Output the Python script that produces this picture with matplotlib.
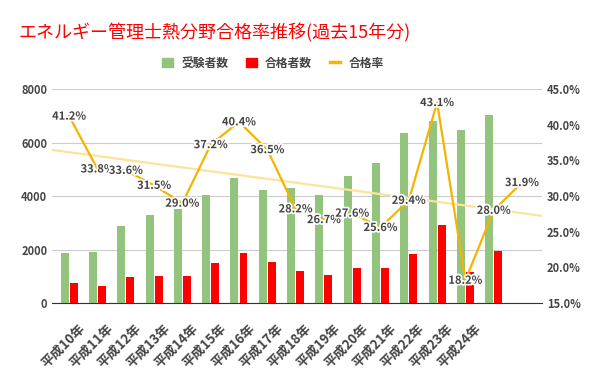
import numpy as np
import matplotlib
matplotlib.use("Agg")
import matplotlib.pyplot as plt
import matplotlib.patheffects as pe
from matplotlib.lines import Line2D
from matplotlib.patches import Patch

plt.rcParams["font.family"] = ["Noto Sans CJK JP", "DejaVu Sans"]

# data
years = ["平成10年", "平成11年", "平成12年", "平成13年", "平成14年", "平成15年",
         "平成16年", "平成17年", "平成18年", "平成19年", "平成20年", "平成21年",
         "平成22年", "平成23年", "平成24年", "", ""]
examinees = [1860, 1900, 2880, 3290, 3500, 4040, 4690, 4220, 4300, 4040,
             4750, 5250, 6370, 6820, 6470, 7040]
passers = [760, 640, 985, 1010, 1010, 1510, 1880, 1545, 1210, 1050,
           1320, 1320, 1845, 2915, 1170, 1945]
pass_rate = [41.2, 33.8, 33.6, 31.5, 29.0, 37.2, 40.4, 36.5, 28.2, 26.7,
             27.6, 25.6, 29.4, 43.1, 18.2, 28.0, 31.9]

GREEN = "#93c47d"
RED = "#ff0000"
ORANGE = "#f4b400"
GRAY = "#444444"

fig = plt.figure(figsize=(6, 3.71), dpi=100)
ax = fig.add_axes([0.087, 0.183, 0.816, 0.577])
ax2 = ax.twinx()

n = len(years)
xb = np.arange(len(examinees))
w = 0.28
ax.bar(xb - 0.16, examinees, w, color=GREEN, zorder=2)
ax.bar(xb + 0.16, passers, w, color=RED, zorder=2)

ax.set_ylim(0, 8000)
ax.set_yticks(range(0, 8001, 2000))
ax.set_xlim(-0.6, n - 0.3)
ax.grid(axis="y", color="#cccccc", lw=0.8, zorder=0)
ax.set_axisbelow(True)
for s in ["top", "right", "left"]:
    ax.spines[s].set_visible(False)
ax.spines["bottom"].set_color("#333333")
ax.spines["bottom"].set_zorder(3)
ax.tick_params(length=0, colors=GRAY, labelsize=8)
for lab in ax.get_yticklabels():
    lab.set_fontweight("bold")

ax.set_xticks(np.arange(n) + 0.3)
ax.set_xticklabels(years, rotation=45, ha="right", va="top",
                   rotation_mode="anchor", fontsize=9.5, fontweight="bold",
                   color=GRAY)
ax.tick_params(axis="x", pad=13)

# pass rate line with trend
xl = np.arange(n)
ax2.plot(xl, pass_rate, color=ORANGE, lw=1.6, zorder=4)
k, b = np.polyfit(xl, pass_rate, 1)
tx = np.array([-0.6, n - 0.3])
ax2.plot(tx, k * tx + b, color="#fde29a", lw=1.6, zorder=3)
for x, v in zip(xl, pass_rate):
    ax2.text(x, v, f"{v:.1f}%", ha="center", va="center", fontsize=8,
             fontweight="bold", color=GRAY, zorder=5,
             path_effects=[pe.withStroke(linewidth=2.5, foreground="white")])

ax2.set_ylim(15, 45)
ax2.set_yticks(np.arange(15, 46, 5))
ax2.set_yticklabels([f"{t:.1f}%" for t in np.arange(15, 46, 5)])
for s in ["top", "right", "left", "bottom"]:
    ax2.spines[s].set_visible(False)
ax2.tick_params(length=0, colors=GRAY, labelsize=8)
for lab in ax2.get_yticklabels():
    lab.set_fontweight("bold")

fig.text(0.03, 0.91, "エネルギー管理士熱分野合格率推移(過去15年分)", color="red",
         fontsize=13, ha="left", va="center")

handles = [Patch(color=GREEN), Patch(color=RED),
           Line2D([], [], color=ORANGE, lw=2.5)]
fig.legend(handles, ["受験者数", "合格者数", "合格率"], loc="center",
           bbox_to_anchor=(0.455, 0.83), ncol=3, frameon=False,
           prop={"weight": "bold", "size": 8.5}, labelcolor=GRAY,
           handlelength=0.9, handleheight=0.9, columnspacing=1.5,
           handletextpad=0.7)

fig.savefig("out.png", dpi=100)
